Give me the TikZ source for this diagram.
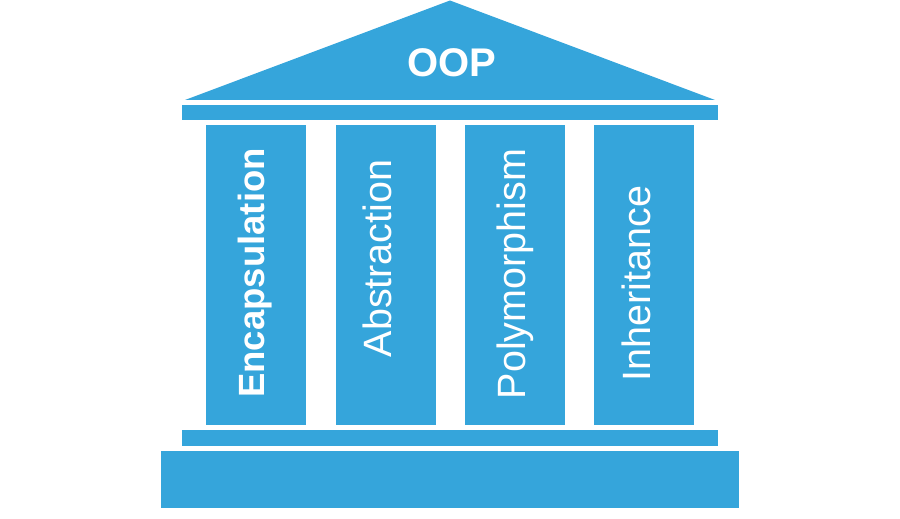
\documentclass[tikz,border=0pt]{standalone}
\usepackage{fontspec}
\setmainfont{Liberation Sans}
\usepackage{tikz}
\usetikzlibrary{positioning}
\definecolor{pillar}{RGB}{53,165,219}
\tikzset{
  slab/.style={fill=pillar,draw=none},
  colbox/.style={slab,minimum width=100pt,minimum height=300pt,inner sep=0,anchor=south west},
  collbl/.style={text=white,rotate=90,anchor=base,inner sep=0,font=\fontsize{39.5}{40}\selectfont},
}

\begin{document}
\begin{tikzpicture}[x=1pt,y=1pt]
  \useasboundingbox (0,0) rectangle (900,519);

  % ---------------- acoperis ----------------
  \fill[slab] (185,419) -- (450,518.5) -- (715,419) -- cycle;
  \node[text=white,font=\fontsize{40}{40}\selectfont\bfseries,anchor=base,inner sep=0]
    (oop) at (452,442.3) {OOP};

  % ---------------- grinzi si soclu ----------------
  \fill[slab] (182,399) rectangle (718,414);
  \fill[slab] (182,73) rectangle (718,89);
  \fill[slab] (161,11) rectangle (739,68);

  % ---------------- coloane ----------------
  \foreach \n/\x in {1/206,2/335.3,3/464.7,4/594}
    \node[colbox] (col\n) at (\x,94) {};

  \node[collbl,font=\fontsize{36.5}{37}\selectfont\bfseries] (enc) at (264.3,246) {Encapsulation};
  \foreach \n/\bx/\yc/\txt in {abs/391.7/260.5/Abstraction,poly/525.7/245/Polymorphism,inh/650.7/235.5/Inheritance}
    \node[collbl] (\n) at (\bx,\yc) {\txt};
\end{tikzpicture}
\end{document}
